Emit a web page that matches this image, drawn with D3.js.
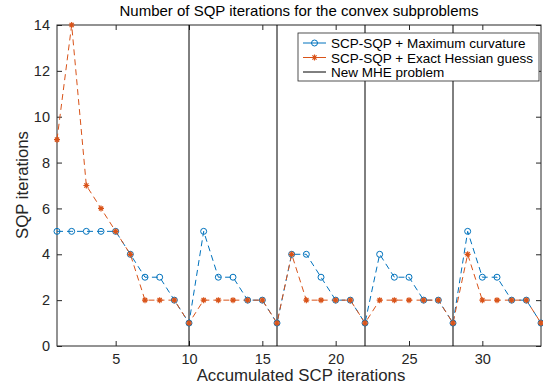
<!DOCTYPE html>
<html><head><meta charset="utf-8">
<script src="https://cdn.jsdelivr.net/npm/d3@7"></script>
<style>body{margin:0;background:#fff;} text{font-family:"Liberation Sans",Arial,sans-serif;}</style>
</head><body><svg id="c" width="543" height="385"></svg>
<script>
const iterations = d3.range(1, 35);
const maxCurvature = [5,5,5,5,5,4,3,3,2,1,5,3,3,2,2,1,4,4,3,2,2,1,4,3,3,2,2,1,5,3,3,2,2,1];
const exactHessian = [9,14,7,6,5,4,2,2,2,1,2,2,2,2,2,1,4,2,2,2,2,1,2,2,2,2,2,1,4,2,2,2,2,1];
const newProblem = [10,16,22,28];
const xTicks = [5,10,15,20,25,30];
const yTicks = [0,2,4,6,8,10,12,14];
const seriesNames = ["SCP-SQP + Maximum curvature","SCP-SQP + Exact Hessian guess","New MHE problem"];
const colors = ["#0072BD","#D95319","#000"];

const svg = d3.select("#c");
const L=57,R=541,T=25,B=346;
const x = d3.scaleLinear().domain([1,34]).range([L,R]);
const y = d3.scaleLinear().domain([0,14]).range([B,T]);

const g = svg.append("g");
const ax = g.append("g").attr("transform",`translate(0,${B})`).call(d3.axisBottom(x).tickValues(xTicks).tickSize(-5).tickPadding(8));
const axT = g.append("g").attr("transform",`translate(0,${T})`).call(d3.axisTop(x).tickValues(xTicks).tickSize(-5).tickFormat(""));
const ay = g.append("g").attr("transform",`translate(${L},0)`).call(d3.axisLeft(y).tickValues(yTicks).tickSize(-5).tickPadding(7));
const ayR = g.append("g").attr("transform",`translate(${R},0)`).call(d3.axisRight(y).tickValues(yTicks).tickSize(-5).tickFormat(""));
[ax,axT,ay,ayR].forEach(a=>{a.select(".domain").remove();a.selectAll("line").attr("stroke","#262626");a.selectAll("text").attr("font-size",14.5).attr("fill","#262626").attr("font-family","Liberation Sans, Arial, sans-serif");});
g.append("rect").attr("x",L).attr("y",T).attr("width",R-L).attr("height",B-T).attr("fill","none").attr("stroke","#262626").attr("stroke-width",1);

g.selectAll(".vl").data(newProblem).enter().append("line")
 .attr("x1",d=>x(d)).attr("x2",d=>x(d)).attr("y1",T).attr("y2",B).attr("stroke","#000").attr("stroke-width",1);

const line = d3.line().x((d,i)=>x(iterations[i])).y(d=>y(d));
g.append("path").datum(maxCurvature).attr("d",line).attr("fill","none").attr("stroke",colors[0]).attr("stroke-width",1).attr("stroke-dasharray","6,4");
g.append("path").datum(exactHessian).attr("d",line).attr("fill","none").attr("stroke",colors[1]).attr("stroke-width",1).attr("stroke-dasharray","6,4");

function circle(sel,cx,cy){sel.append("circle").attr("cx",cx).attr("cy",cy).attr("r",3).attr("fill","none").attr("stroke",colors[0]).attr("stroke-width",1);}
function star(sel,cx,cy){
  const r=3;
  const p=`M${cx-r},${cy}L${cx+r},${cy}M${cx},${cy-r}L${cx},${cy+r}M${cx-r*0.7},${cy-r*0.7}L${cx+r*0.7},${cy+r*0.7}M${cx-r*0.7},${cy+r*0.7}L${cx+r*0.7},${cy-r*0.7}`;
  sel.append("path").attr("d",p).attr("stroke",colors[1]).attr("stroke-width",1.2).attr("fill","none");
}
maxCurvature.forEach((d,i)=>circle(g,x(iterations[i]),y(d)));
exactHessian.forEach((d,i)=>star(g,x(iterations[i]),y(d)));

const lg = svg.append("g");
lg.append("rect").attr("x",298).attr("y",33).attr("width",241).attr("height",48).attr("fill","#fff").attr("stroke","#262626").attr("stroke-width",0.8);
const ly=[43,57.5,72];
ly.forEach((yy,i)=>{
  lg.append("line").attr("x1",303).attr("x2",326).attr("y1",yy).attr("y2",yy).attr("stroke",colors[i]).attr("stroke-width",1);
  if(i===0) circle(lg,314.5,yy);
  if(i===1) star(lg,314.5,yy);
  lg.append("text").attr("x",331).attr("y",yy+5).attr("font-size",13.5).attr("fill","#000").text(seriesNames[i]);
});

svg.append("text").attr("x",299).attr("y",16).attr("text-anchor","middle").attr("font-size",15).attr("fill","#000").text("Number of SQP iterations for the convex subproblems");
svg.append("text").attr("x",301).attr("y",381).attr("text-anchor","middle").attr("font-size",16.8).attr("fill","#262626").text("Accumulated SCP iterations");
svg.append("text").attr("transform","translate(28,185) rotate(-90)").attr("text-anchor","middle").attr("font-size",16.8).attr("fill","#262626").text("SQP iterations");
</script></body></html>
